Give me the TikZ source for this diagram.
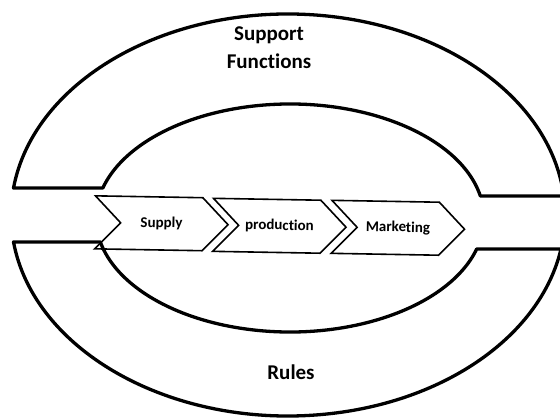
\documentclass[tikz,border=0pt]{standalone}
\usepackage{fontspec}
\setmainfont{Carlito}[Ligatures=NoCommon]
\usetikzlibrary{shapes.symbols}
\begin{document}
\begin{tikzpicture}[x=1pt,y=1pt,
  band/.style={line width=3.3pt, line join=round},
  chevron/.style={draw, line width=1.6pt, signal, signal to=east, signal from=west,
    signal pointer angle=92, minimum width=133pt, minimum height=53pt,
    inner sep=0pt, rotate=-1, font=\bfseries\fontsize{15}{18}\selectfont},
  caption/.style={font=\bfseries\fontsize{21}{28}\selectfont, align=center}]
\useasboundingbox (0,0) rectangle (560,418);
\clip (0,0) rectangle (560,418);
% outer ellipse: centre (288,203), radii 277 x 201
% inner ellipse: centre (290,200), radii 194 x 114
% upper band
\draw[band] ({288+277*cos(172.28)},{203+201*sin(172.28)})
  arc[start angle=172.28, end angle=5.42, x radius=277, y radius=201]
  -- ({290+194*cos(11.13)},{200+114*sin(11.13)})
  arc[start angle=11.13, end angle=164.74, x radius=194, y radius=114]
  -- cycle;
% lower band
\draw[band] ({288+277*cos(187.72)},{203+201*sin(187.72)})
  arc[start angle=187.72, end angle=350.26, x radius=277, y radius=201]
  -- ({290+194*cos(344.22)},{200+114*sin(344.22)})
  arc[start angle=344.22, end angle=192.15, x radius=194, y radius=114]
  -- cycle;
% labels of the two bands
\node[caption] (support) at (269,370) {Support\\Functions};
\node[caption] (rules) at (291,46) {Rules};
% value chain
\node[chevron] (supply) at (161.5,194.5) {Supply};
\node[chevron] (production) at (279.5,192) {production};
\node[chevron] (marketing) at (398,190) {Marketing};
\end{tikzpicture}
\end{document}
